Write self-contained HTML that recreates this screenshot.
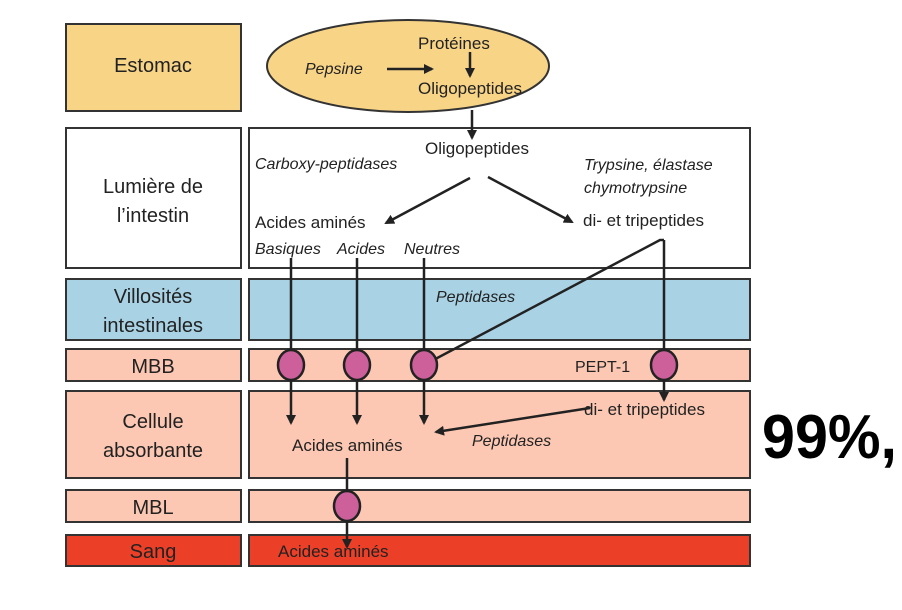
<!DOCTYPE html>
<html><head><meta charset="utf-8"><style>
body{margin:0;background:#fff;}
svg{display:block;font-family:"Liberation Sans",sans-serif;}
</style></head><body>
<svg width="902" height="610" viewBox="0 0 902 610" xmlns="http://www.w3.org/2000/svg">
<defs><marker id="a" markerWidth="10" markerHeight="10" refX="8" refY="5" orient="auto" markerUnits="userSpaceOnUse"><path d="M0,0 L10,5 L0,10 Z" fill="#222"/></marker></defs>
<g stroke="#333" stroke-width="2">
<rect x="66" y="24" width="175" height="87" fill="#f8d487"/>
<rect x="66" y="128" width="175" height="140" fill="#fff"/>
<rect x="66" y="279" width="175" height="61" fill="#a9d3e5"/>
<rect x="66" y="349" width="175" height="32" fill="#fdc8b3"/>
<rect x="66" y="391" width="175" height="87" fill="#fdc8b3"/>
<rect x="66" y="490" width="175" height="32" fill="#fdc8b3"/>
<rect x="66" y="535" width="175" height="31" fill="#ec3f28"/>
<rect x="249" y="128" width="501" height="140" fill="#fff"/>
<rect x="249" y="279" width="501" height="61" fill="#a9d3e5"/>
<rect x="249" y="349" width="501" height="32" fill="#fdc8b3"/>
<rect x="249" y="391" width="501" height="87" fill="#fdc8b3"/>
<rect x="249" y="490" width="501" height="32" fill="#fdc8b3"/>
<rect x="249" y="535" width="501" height="31" fill="#ec3f28"/>
<ellipse cx="408" cy="66" rx="141" ry="46" fill="#f8d487"/>
</g>
<g stroke="#222" stroke-width="2.5" fill="none" marker-end="url(#a)">
<line x1="387" y1="69" x2="432" y2="69"/>
<line x1="470" y1="52" x2="470" y2="76"/>
<line x1="472" y1="110" x2="472" y2="138"/>
<line x1="470" y1="178" x2="386" y2="223"/>
<line x1="488" y1="177" x2="572" y2="222"/>
<line x1="291" y1="258" x2="291" y2="423"/>
<line x1="357" y1="258" x2="357" y2="423"/>
<line x1="424" y1="258" x2="424" y2="423"/>
<line x1="664" y1="240" x2="664" y2="400"/>
<line x1="590" y1="408" x2="436" y2="432"/>
<line x1="347" y1="458" x2="347" y2="547"/>
</g>
<polyline points="424,365 660,240 664,240" stroke="#222" stroke-width="2.5" fill="none"/>
<g fill="#cd5f9a" stroke="#222" stroke-width="2.5">
<ellipse cx="291" cy="365" rx="13" ry="15"/>
<ellipse cx="357" cy="365" rx="13" ry="15"/>
<ellipse cx="424" cy="365" rx="13" ry="15"/>
<ellipse cx="664" cy="365" rx="13" ry="15"/>
<ellipse cx="347" cy="506" rx="13" ry="15"/>
</g>
<g fill="#222" font-size="20" text-anchor="middle">
<text x="153" y="72">Estomac</text>
<text x="153" y="193">Lumière de</text>
<text x="153" y="222">l’intestin</text>
<text x="153" y="303">Villosités</text>
<text x="153" y="332">intestinales</text>
<text x="153" y="373">MBB</text>
<text x="153" y="428">Cellule</text>
<text x="153" y="457">absorbante</text>
<text x="153" y="514">MBL</text>
<text x="153" y="558">Sang</text>
</g>
<g fill="#222" font-size="17">
<text x="418" y="49">Protéines</text>
<text x="418" y="94">Oligopeptides</text>
<text x="425" y="154">Oligopeptides</text>
<text x="255" y="228">Acides aminés</text>
<text x="583" y="226">di- et tripeptides</text>
<text x="575" y="372" font-size="16">PEPT-1</text>
<text x="584" y="415">di- et tripeptides</text>
<text x="292" y="451">Acides aminés</text>
<text x="278" y="557">Acides aminés</text>
</g>
<g fill="#222" font-size="16" font-style="italic">
<text x="305" y="74">Pepsine</text>
<text x="255" y="169">Carboxy-peptidases</text>
<text x="584" y="170">Trypsine, élastase</text>
<text x="584" y="193">chymotrypsine</text>
<text x="255" y="254">Basiques</text>
<text x="337" y="254">Acides</text>
<text x="404" y="254">Neutres</text>
<text x="436" y="302">Peptidases</text>
<text x="472" y="446">Peptidases</text>
</g>
<text x="762" y="458" font-size="62" font-weight="bold" fill="#000" textLength="135" lengthAdjust="spacingAndGlyphs">99%,</text>
</svg>
</body></html>
